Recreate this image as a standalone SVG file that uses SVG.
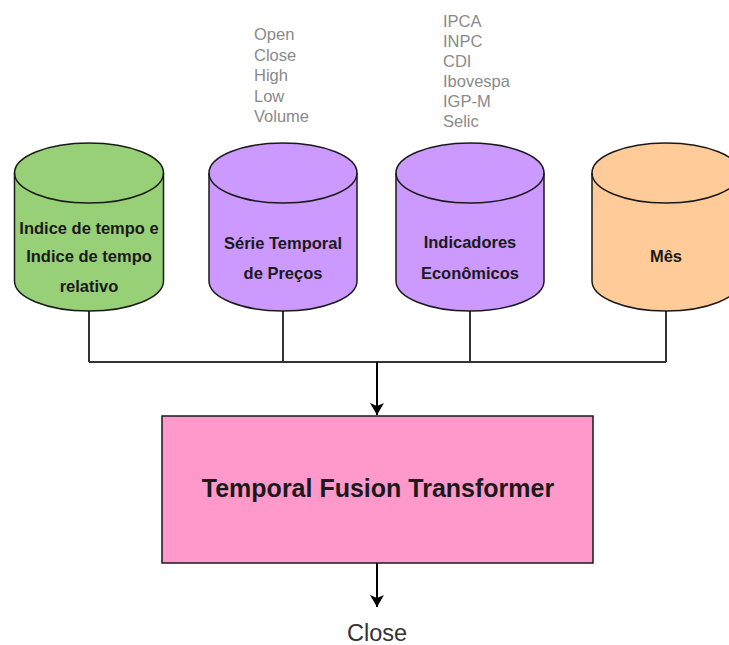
<svg xmlns="http://www.w3.org/2000/svg" width="729" height="645" viewBox="0 0 729 645">
  <style>
    .cyl { stroke: #1a1a1a; stroke-width: 1.5; }
    .rim { fill: none; stroke: #1a1a1a; stroke-width: 1.5; }
    .lbl { font-family: "Liberation Sans", Arial, sans-serif; font-weight: bold; font-size: 16.5px; fill: #1a1a1a; text-anchor: middle; }
    .list { font-family: "Liberation Sans", Arial, sans-serif; font-size: 16.5px; fill: #8a8a8a; }
    .wire { fill: none; stroke: #333333; stroke-width: 2; }
    .flow { fill: none; stroke: #000000; stroke-width: 2; }
  </style>
  <defs>
    <marker id="arrow" markerWidth="12" markerHeight="14" refX="12" refY="7" orient="auto" markerUnits="userSpaceOnUse">
      <path d="M0,0 L12,7 L0,14 L3,7 Z" fill="#000000"/>
    </marker>
  </defs>

  <rect x="0" y="0" width="729" height="645" fill="#ffffff"/>

  <!-- attribute lists above the data sources -->
  <g id="price-fields" class="list">
    <text x="254" y="40">Open</text>
    <text x="254" y="61">Close</text>
    <text x="254" y="81">High</text>
    <text x="254" y="102">Low</text>
    <text x="254" y="122">Volume</text>
  </g>
  <g id="indicator-fields" class="list">
    <text x="443" y="27">IPCA</text>
    <text x="443" y="47">INPC</text>
    <text x="443" y="67">CDI</text>
    <text x="443" y="87">Ibovespa</text>
    <text x="443" y="107">IGP-M</text>
    <text x="443" y="127">Selic</text>
  </g>

  <!-- connectors -->
  <g id="connectors">
    <path class="wire" d="M89,311 V362 M283,311 V362 M470,311 V362 M666,311 V362 M89,362 H666"/>
    <path class="flow" d="M377,362 V415" marker-end="url(#arrow)"/>
    <path class="flow" d="M377,563 V607" marker-end="url(#arrow)"/>
  </g>

  <!-- data sources -->
  <g id="time-index">
    <path class="cyl" fill="#97d077" d="M14.5,173 A74.5,30 0 0 1 163.5,173 V281 A74.5,30 0 0 1 14.5,281 Z"/>
    <path class="rim" d="M14.5,173 A74.5,30 0 0 0 163.5,173"/>
    <text class="lbl" x="89" y="234">Indice de tempo e</text>
    <text class="lbl" x="89" y="262">Indice de tempo</text>
    <text class="lbl" x="89" y="292">relativo</text>
  </g>

  <g id="price-series">
    <path class="cyl" fill="#cc99ff" d="M209,173 A74,30 0 0 1 357,173 V281 A74,30 0 0 1 209,281 Z"/>
    <path class="rim" d="M209,173 A74,30 0 0 0 357,173"/>
    <text class="lbl" x="283" y="249">Série Temporal</text>
    <text class="lbl" x="283" y="279">de Preços</text>
  </g>

  <g id="economic-indicators">
    <path class="cyl" fill="#cc99ff" d="M396,173 A74,30 0 0 1 544,173 V281 A74,30 0 0 1 396,281 Z"/>
    <path class="rim" d="M396,173 A74,30 0 0 0 544,173"/>
    <text class="lbl" x="470" y="248">Indicadores</text>
    <text class="lbl" x="470" y="279">Econômicos</text>
  </g>

  <g id="month">
    <path class="cyl" fill="#ffcc99" d="M592,173 A74,30 0 0 1 740,173 V281 A74,30 0 0 1 592,281 Z"/>
    <path class="rim" d="M592,173 A74,30 0 0 0 740,173"/>
    <text class="lbl" x="666" y="262">Mês</text>
  </g>

  <!-- model -->
  <g id="tft">
    <rect x="162" y="416" width="431" height="147" fill="#ff99cc" stroke="#1a1a1a" stroke-width="1.5"/>
    <text x="378" y="497" font-family="'Liberation Sans', Arial, sans-serif" font-weight="bold" font-size="25" fill="#1a1a1a" text-anchor="middle">Temporal Fusion Transformer</text>
  </g>

  <!-- output -->
  <g id="output">
    <text x="377" y="641" font-family="'Liberation Sans', Arial, sans-serif" font-size="23.5" fill="#333333" text-anchor="middle">Close</text>
  </g>
</svg>
